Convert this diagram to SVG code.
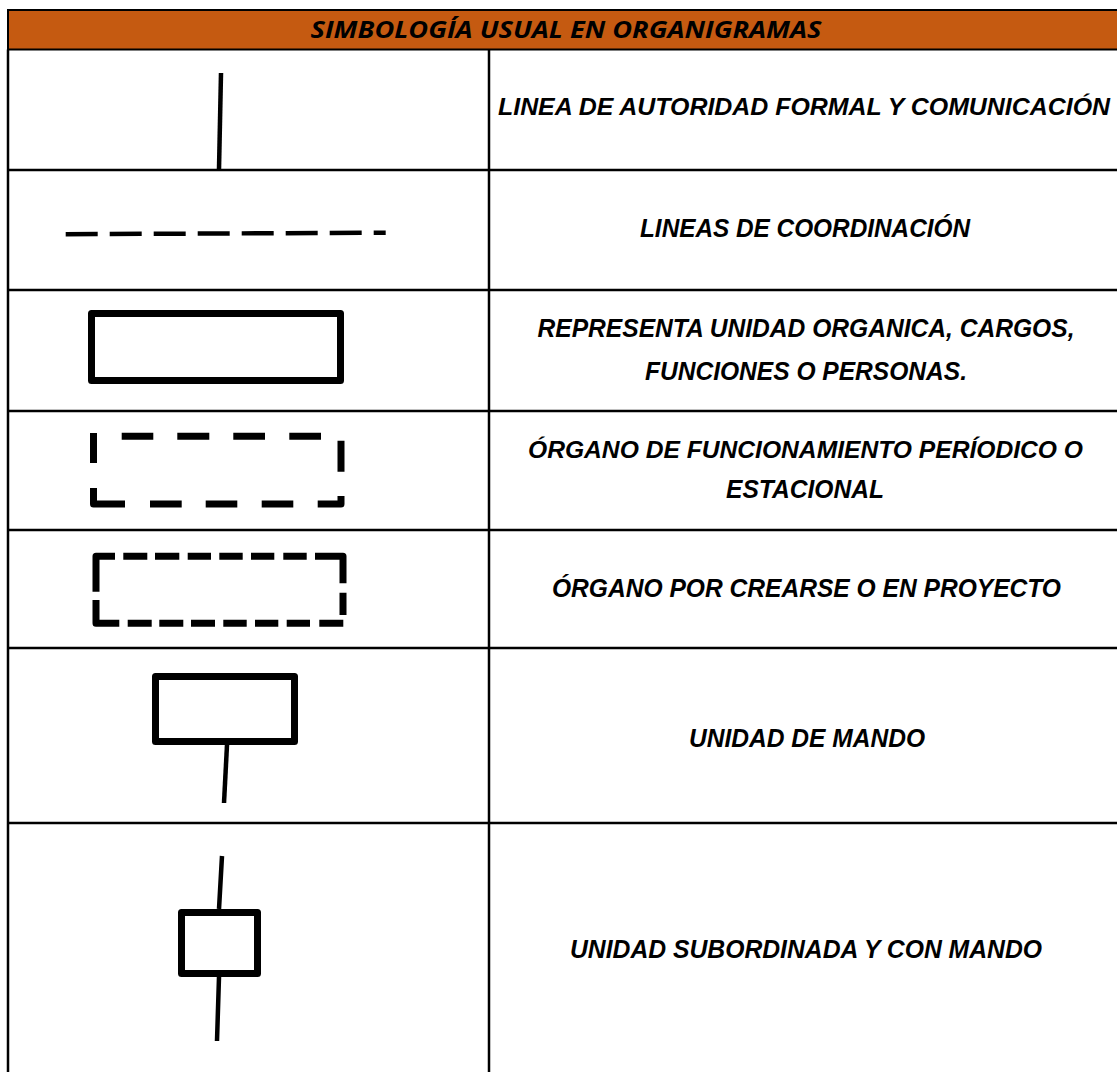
<svg xmlns="http://www.w3.org/2000/svg" width="1117" height="1072" viewBox="0 0 1117 1072">
<style>
.grid{stroke:#000;stroke-width:2.5;fill:none}
.lbl{font-family:"Liberation Sans",Arial,sans-serif;font-weight:bold;font-style:italic;font-size:26.5px;fill:#000;text-anchor:middle}
.lbl.sm{font-size:24.5px}
.hdr{font-family:"Open Sans","Liberation Sans",sans-serif;font-weight:bold;font-style:italic;font-size:23px;fill:#000;text-anchor:middle}
.sym{stroke:#000;stroke-width:7;fill:none;stroke-linejoin:round}
.dash{stroke:#000;stroke-width:7;fill:none;stroke-linejoin:round;stroke-linecap:butt}
.ln{stroke:#000;stroke-width:4.5;fill:none}
</style>
<rect x="0" y="0" width="1117" height="1072" fill="#fff"/>
<g id="table">
<rect x="8" y="10" width="1120" height="39.5" fill="#C55A11" stroke="#000" stroke-width="2"/>
<text class="hdr" x="566" y="38" textLength="511" lengthAdjust="spacingAndGlyphs">SIMBOLOGÍA USUAL EN ORGANIGRAMAS</text>
<path class="grid" d="M8 49.5V1072 M489 49.5V1072 M8 170H1117 M8 290H1117 M8 411H1117 M8 530H1117 M8 648H1117 M8 823H1117"/>
</g>
<g id="row1">
<path class="ln" d="M221 73L219 169"/>
<text class="lbl sm" x="804" y="115" textLength="612" lengthAdjust="spacingAndGlyphs">LINEA DE AUTORIDAD FORMAL Y COMUNICACIÓN</text>
</g>
<g id="row2">
<path class="ln" d="M65.7 234.2L385.7 232.7" stroke-dasharray="32 12"/>
<text class="lbl" x="805" y="237" textLength="330" lengthAdjust="spacingAndGlyphs">LINEAS DE COORDINACIÓN</text>
</g>
<g id="row3">
<rect class="sym" x="91.5" y="313.5" width="249" height="67"/>
<text class="lbl" x="806" y="337" textLength="537" lengthAdjust="spacingAndGlyphs">REPRESENTA UNIDAD ORGANICA, CARGOS,</text>
<text class="lbl" x="806" y="380" textLength="322" lengthAdjust="spacingAndGlyphs">FUNCIONES O PERSONAS.</text>
</g>
<g id="row4">
<path class="dash" d="M93.5 433V463 M93.5 488V504H125 M150 504H181.7 M205.7 504H237.3 M261.7 504H293.3 M317.7 504H341V496 M341 440.7V471.7 M121.7 436.3H153.3 M177.3 436.3H209.3 M233.3 436.3H265 M289.3 436.3H321"/>
<text class="lbl sm" x="805.5" y="458" textLength="555" lengthAdjust="spacingAndGlyphs">ÓRGANO DE FUNCIONAMIENTO PERÍODICO O</text>
<text class="lbl" x="805" y="498" textLength="158" lengthAdjust="spacingAndGlyphs">ESTACIONAL</text>
</g>
<g id="row5">
<path class="dash" d="M96 591.7V556.3H115 M123.3 556.3H147.3 M155 556.3H179.3 M187.7 556.3H211 M219.3 556.3H242.7 M251 556.3H274.3 M283.3 556.3H306.7 M315 556.3H343V583.3 M343 592.7V615 M96 600V623.3H119.3 M127.7 623.3H151.7 M159.3 623.3H183.3 M191 623.3H215 M223.3 623.3H246.7 M255 623.3H278.3 M286.7 623.3H310 M319.3 623.3H343.3"/>
<text class="lbl" x="806.5" y="597" textLength="509" lengthAdjust="spacingAndGlyphs">ÓRGANO POR CREARSE O EN PROYECTO</text>
</g>
<g id="row6">
<rect class="sym" x="155.5" y="676.5" width="139" height="65"/>
<path class="ln" d="M227 745L224 803"/>
<text class="lbl" x="807" y="747" textLength="236" lengthAdjust="spacingAndGlyphs">UNIDAD DE MANDO</text>
</g>
<g id="row7">
<rect class="sym" x="181.5" y="912.5" width="76" height="61"/>
<path class="ln" d="M222 856L219 909 M219 977L217 1041"/>
<text class="lbl" x="806" y="958" textLength="472" lengthAdjust="spacingAndGlyphs">UNIDAD SUBORDINADA Y CON MANDO</text>
</g>
</svg>
